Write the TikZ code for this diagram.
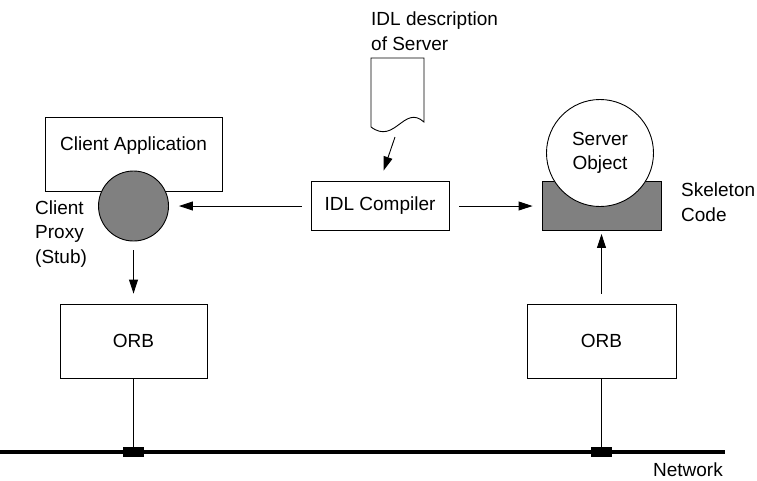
\documentclass[tikz,border=0pt]{standalone}
\usepackage{fontspec}
\setmainfont{Liberation Sans}
\usetikzlibrary{arrows.meta}

\begin{document}
\begin{tikzpicture}[x=1pt, y=-1pt,
    font=\fontsize{19}{24.5}\selectfont,
    box/.style={draw, line width=0.9pt, inner sep=0pt},
    lbl/.style={align=left, anchor=west, inner sep=0pt},
    arr/.style={-{Triangle[length=14pt, width=9pt]}, line width=0.9pt},
    tap/.style={fill, inner sep=0pt, minimum width=21pt, minimum height=10pt}]
  \useasboundingbox (0, 0) rectangle (757, 480);
  % client side
  \node[box, minimum width=177pt, minimum height=74pt] (app) at (133.5, 154) {};
  \node (apptxt) at (133.5, 146) {Client Application};
  \node[box, circle, fill=gray, minimum size=70pt] (proxy) at (133.5, 206) {};
  \node[lbl] (proxytxt) at (35, 234) {Client\\Proxy\\(Stub)};
  \node[box, minimum width=147pt, minimum height=74pt] (orbL) at (133.5, 341) {ORB};
  % compiler and its input
  \draw[line width=0.9pt, fill=white] (371, 127) -- (371, 58) -- (424, 58) -- (424, 122)
    .. controls (404, 104) and (395, 145) .. (371, 127);
  \node[lbl] (idltxt) at (371, 31) {IDL description\\of Server};
  \coordinate (docend) at (395, 137);
  \node[box, minimum width=138pt, minimum height=49pt] (idl) at (380, 206) {IDL Compiler};
  % server side
  \node[box, fill=gray, minimum width=119pt, minimum height=49pt] (skel) at (601.5, 206) {};
  \node[box, circle, fill=white, minimum size=107pt, align=center] (server) at (600, 153) {Server\\Object};
  \node[lbl] (skeltxt) at (681, 202) {Skeleton\\Code};
  \node[box, minimum width=149pt, minimum height=74pt] (orbR) at (601.5, 341) {ORB};
  % network
  \coordinate (netL) at (0, 452);
  \coordinate (netR) at (725, 452);
  \draw[line width=4.5pt] (netL) -- (netR);
  \node[anchor=east, inner sep=0pt] (nettxt) at (723, 470) {Network};
  \foreach \o in {orbL, orbR} {
    \node[tap] (tap-\o) at (\o |- netL) {};
    \draw[line width=1.3pt] (\o.south) -- (tap-\o);
  }
  % arrows
  \draw[arr, shorten >=11pt] (docend) -- (idl.north);
  \draw[arr, shorten <=9pt, shorten >=10pt] (idl.west) -- (proxy.east);
  \draw[arr, shorten <=10pt, shorten >=9pt] (idl.east) -- (skel.west);
  \draw[arr, shorten <=9pt, shorten >=10pt] (proxy.south) -- (orbL.north);
  \draw[arr, shorten <=10pt, shorten >=3pt] (orbR.north) -- (skel.south);
\end{tikzpicture}
\end{document}
